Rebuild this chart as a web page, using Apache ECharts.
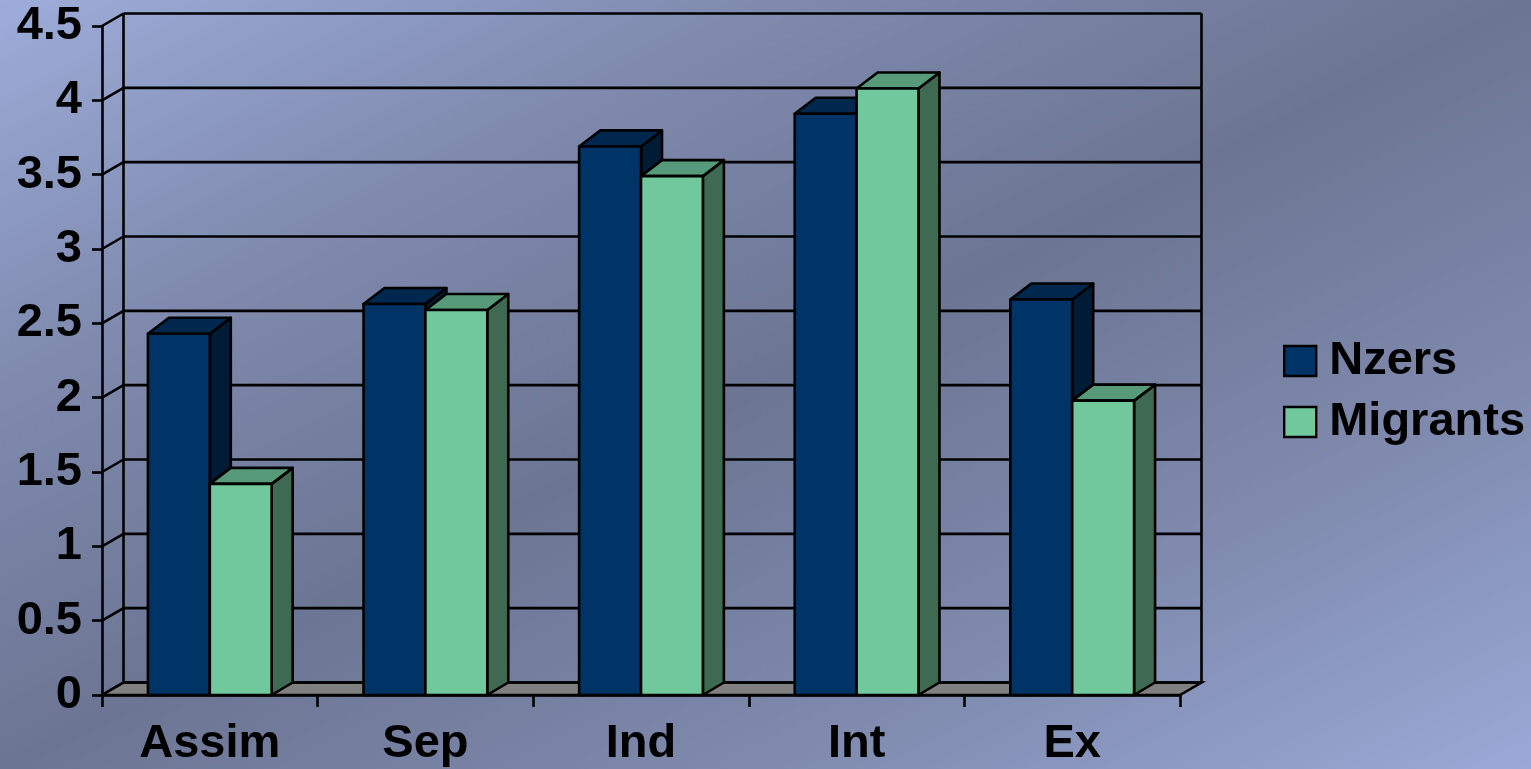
<!DOCTYPE html>
<html>
<head>
<meta charset="utf-8">
<title>Nzers vs Migrants</title>
<script src="https://cdn.jsdelivr.net/npm/echarts@6/dist/echarts.min.js"></script>
<style>
  html, body { margin: 0; padding: 0; width: 100%; height: 100%; }
  body {
    background: linear-gradient(to bottom right, #9dacd9 0%, #7f8aae 25%, #6c7593 50%, #7f8aae 75%, #9aa9d6 100%);
  }
  #chart { width: 1531px; height: 769px; }
</style>
</head>
<body>
<div id="chart"></div>
<script>
// Acculturation strategy scores by group
const categories = ['Assim', 'Sep', 'Ind', 'Int', 'Ex'];
const nzers = [2.43, 2.63, 3.69, 3.91, 2.66];
const migrants = [1.42, 2.59, 3.49, 4.08, 1.98];
const yTicks = [0, 0.5, 1, 1.5, 2, 2.5, 3, 3.5, 4, 4.5];

const FONT = '"Liberation Sans", Arial, sans-serif';
// depth offsets of the pseudo-3D walls and columns
const WALL_DX = 21.5, WALL_DY = -12.5;
const BAR_DX = 21, BAR_TOP_DY = -16, BAR_BASE_DY = -12.5;
const BAR_FRAC = 0.287;
const LW = 2.6;

const colors = {
  Nzers: { front: '#003366', top: '#00284f', side: '#001b36' },
  Migrants: { front: '#71c89c', top: '#579a79', side: '#3d6a50' }
};

function wallItem(params, api) {
  const cs = params.coordSys;
  const v = api.value(1);
  const y = api.coord([0, v])[1];
  const left = cs.x, right = cs.x + cs.width;
  const line = { stroke: '#000', lineWidth: LW };
  const children = [
    { type: 'line', shape: { x1: left, y1: y, x2: left + WALL_DX, y2: y + WALL_DY }, style: line },
    { type: 'line', shape: { x1: left + WALL_DX, y1: y + WALL_DY, x2: right + WALL_DX, y2: y + WALL_DY }, style: line }
  ];
  if (params.dataIndex === 0) {
    const yTop = api.coord([0, yTicks[yTicks.length - 1]])[1];
    children.unshift({
      type: 'polygon',
      shape: { points: [[left, y], [right, y], [right + WALL_DX, y + WALL_DY], [left + WALL_DX, y + WALL_DY]] },
      style: { fill: '#808080', stroke: '#000', lineWidth: LW }
    });
    children.push(
      { type: 'line', shape: { x1: left + WALL_DX, y1: y + WALL_DY, x2: left + WALL_DX, y2: yTop + WALL_DY }, style: line },
      { type: 'line', shape: { x1: right + WALL_DX, y1: y + WALL_DY, x2: right + WALL_DX, y2: yTop + WALL_DY }, style: line }
    );
  }
  return { type: 'group', children };
}

function barRenderer(name, side) {
  const c = colors[name];
  return function (params, api) {
    const cat = api.value(0), val = api.value(1);
    const base = api.coord([cat, 0]);
    const top = api.coord([cat, val]);
    const band = api.size([1, 0])[0];
    const w = band * BAR_FRAC;
    const x0 = side < 0 ? base[0] - w : base[0];
    const x1 = x0 + w;
    const yb = base[1], yt = top[1];
    const stroke = { stroke: '#000', lineWidth: LW, lineJoin: 'round' };
    return {
      type: 'group',
      children: [
        { type: 'polygon', shape: { points: [[x1, yt], [x1 + BAR_DX, yt + BAR_TOP_DY], [x1 + BAR_DX, yb + BAR_BASE_DY], [x1, yb]] },
          style: Object.assign({ fill: c.side }, stroke) },
        { type: 'polygon', shape: { points: [[x0, yt], [x1, yt], [x1 + BAR_DX, yt + BAR_TOP_DY], [x0 + BAR_DX, yt + BAR_TOP_DY]] },
          style: Object.assign({ fill: c.top }, stroke) },
        { type: 'rect', shape: { x: x0, y: yt, width: w, height: yb - yt },
          style: Object.assign({ fill: c.front }, stroke) }
      ]
    };
  };
}

const chart = echarts.init(document.getElementById('chart'), null, { renderer: 'canvas' });
chart.setOption({
  backgroundColor: 'transparent',
  animation: false,
  grid: { left: 102, top: 26, width: 1078, height: 669, containLabel: false },
  xAxis: {
    type: 'category',
    data: categories,
    boundaryGap: true,
    axisLine: { show: true, lineStyle: { color: '#000', width: LW } },
    axisTick: { show: true, length: 12, lineStyle: { color: '#000', width: LW } },
    axisLabel: { color: '#000', fontFamily: FONT, fontWeight: 'bold', fontSize: 47, margin: 26 },
    splitLine: { show: false }
  },
  yAxis: {
    type: 'value',
    min: 0, max: 4.5, interval: 0.5,
    axisLine: { show: true, lineStyle: { color: '#000', width: LW } },
    axisTick: { show: true, length: 10, lineStyle: { color: '#000', width: LW } },
    axisLabel: { color: '#000', fontFamily: FONT, fontWeight: 'bold', fontSize: 47, margin: 20 },
    splitLine: { show: false }
  },
  legend: {
    orient: 'vertical',
    left: 1283, top: 336,
    padding: 0,
    itemWidth: 32, itemHeight: 30, itemGap: 11,
    icon: 'rect',
    itemStyle: { borderColor: '#000', borderWidth: 2.4 },
    textStyle: { color: '#000', fontFamily: FONT, fontWeight: 'bold', fontSize: 47, lineHeight: 50, padding: [0, 0, 0, 8] },
    data: [
      { name: 'Nzers', itemStyle: { color: colors.Nzers.front } },
      { name: 'Migrants', itemStyle: { color: colors.Migrants.front } }
    ]
  },
  series: [
    {
      name: 'wall', type: 'custom', silent: true, z: 1,
      data: yTicks.map(v => [0, v]),
      renderItem: wallItem
    },
    {
      name: 'Nzers', type: 'custom', z: 3,
      itemStyle: { color: colors.Nzers.front },
      data: nzers.map((v, i) => [i, v]),
      renderItem: barRenderer('Nzers', -1)
    },
    {
      name: 'Migrants', type: 'custom', z: 4,
      itemStyle: { color: colors.Migrants.front },
      data: migrants.map((v, i) => [i, v]),
      renderItem: barRenderer('Migrants', 1)
    }
  ]
});
</script>
</body>
</html>
